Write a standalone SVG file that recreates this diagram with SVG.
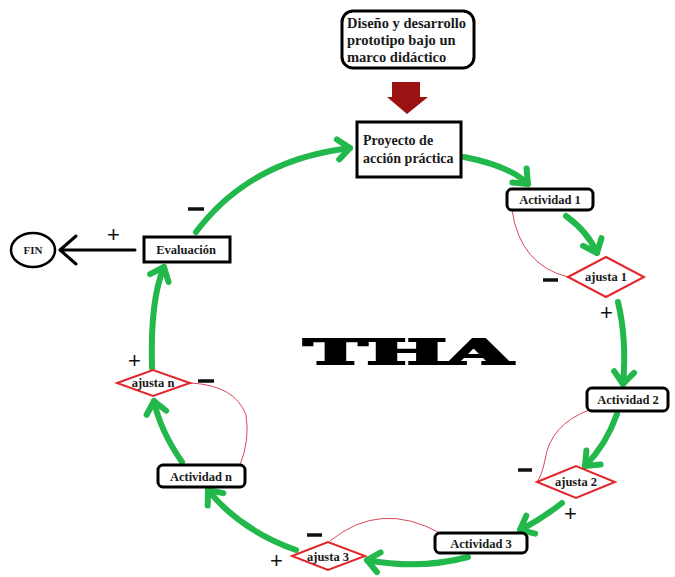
<svg xmlns="http://www.w3.org/2000/svg" width="675" height="577" viewBox="0 0 675 577">
<defs>
<style>
.t{font-family:"Liberation Serif","Times New Roman",serif;font-weight:bold;fill:#1a1a1a}
.box{fill:#fff;stroke:#000;stroke-width:3}
.dia{fill:#fff;stroke:#e3262b;stroke-width:2}
.g{fill:none;stroke:#22b84c;stroke-width:6;stroke-linecap:round}
.r{fill:none;stroke:#d9475a;stroke-width:1}
.sign{font-family:"Liberation Sans",Arial,sans-serif;font-size:22px;fill:#111}
.dash{stroke:#111;stroke-width:3.5}
</style>
<marker id="ah" viewBox="-16 -14 20 28" refX="0" refY="0" markerWidth="20" markerHeight="28" markerUnits="userSpaceOnUse" orient="auto">
<path d="M -12 -10 L 0 0 L -12 10" fill="none" stroke="#22b84c" stroke-width="6" stroke-linecap="round" stroke-linejoin="round"/>
</marker>
</defs>
<rect width="675" height="577" fill="#fff"/>

<g id="connectors">
<path class="g" d="M 196 232 Q 250 160 350 148" marker-end="url(#ah)"/>
<path class="g" d="M 464 157 Q 510 166 528 184" marker-end="url(#ah)"/>
<path class="g" d="M 566 216 Q 588 232 597 253" marker-end="url(#ah)"/>
<path class="g" d="M 618 302 Q 627 340 623 384" marker-end="url(#ah)"/>
<path class="g" d="M 617 414 Q 606 445 585 466" marker-end="url(#ah)"/>
<path class="g" d="M 562 503 Q 540 520 520 530" marker-end="url(#ah)"/>
<path class="g" d="M 468 557 Q 420 570 367 560" marker-end="url(#ah)"/>
<path class="g" d="M 296 550 Q 240 530 208 490" marker-end="url(#ah)"/>
<path class="g" d="M 182 462 Q 160 430 154 401" marker-end="url(#ah)"/>
<path class="g" d="M 152 368 Q 150 300 164 267" marker-end="url(#ah)"/>
<path class="r" d="M 512 210 Q 520 265 568 277"/>
<path class="r" d="M 589 410 Q 550 425 545 460 Q 542 475 537 482"/>
<path class="r" d="M 440 533 Q 380 500 330 541"/>
<path class="r" d="M 190 383 Q 235 385 246 415 Q 250 440 240 465"/>
<path d="M 135 250 L 60 250 M 76 236 L 60 250 L 76 264" fill="none" stroke="#000" stroke-width="3" stroke-linecap="round" stroke-linejoin="round"/>
<path d="M 392 82 H 420 V 97 H 428 L 407 114 L 387 97 H 392 Z" fill="#9b1212"/>
</g>

<g id="diseno">
<rect class="box" x="342" y="11" width="132" height="57" rx="11"/>
<text class="t" font-size="14.5" x="347" y="28">Diseño y desarrollo</text>
<text class="t" font-size="14.5" x="347" y="45">prototipo bajo un</text>
<text class="t" font-size="14.5" x="347" y="62">marco didáctico</text>
</g>

<g id="proyecto">
<rect class="box" x="357" y="122" width="104" height="55"/>
<text class="t" font-size="14" x="363" y="145">Proyecto de</text>
<text class="t" font-size="14" x="363" y="163">acción práctica</text>
</g>

<g id="actividad1">
<rect class="box" x="507" y="189" width="86" height="21" rx="5"/>
<text class="t" font-size="12.5" x="550" y="204" text-anchor="middle">Actividad 1</text>
</g>

<g id="ajusta1">
<polygon class="dia" points="568,277 606,257 644,277 606,297"/>
<text class="t" font-size="12.5" x="606" y="281" text-anchor="middle">ajusta 1</text>
</g>

<g id="actividad2">
<rect class="box" x="587" y="388" width="81" height="23" rx="5"/>
<text class="t" font-size="12.5" x="628" y="404" text-anchor="middle">Actividad 2</text>
</g>

<g id="ajusta2">
<polygon class="dia" points="537,482 576,466 615,482 576,498"/>
<text class="t" font-size="12.5" x="576" y="486" text-anchor="middle">ajusta 2</text>
</g>

<g id="actividad3">
<rect class="box" x="435" y="533" width="92" height="20" rx="5"/>
<text class="t" font-size="12.5" x="481" y="548" text-anchor="middle">Actividad 3</text>
</g>

<g id="ajusta3">
<polygon class="dia" points="292,556 328,542 365,556 328,570"/>
<text class="t" font-size="12.5" x="328" y="561" text-anchor="middle">ajusta 3</text>
</g>

<g id="actividadn">
<rect class="box" x="158" y="465" width="87" height="22" rx="5"/>
<text class="t" font-size="12.5" x="201" y="481" text-anchor="middle">Actividad n</text>
</g>

<g id="ajustan">
<polygon class="dia" points="117,383 153,370 190,383 153,396"/>
<text class="t" font-size="12.5" x="153" y="387" text-anchor="middle">ajusta n</text>
</g>

<g id="evaluacion">
<rect class="box" x="144" y="237" width="86" height="25"/>
<text class="t" font-size="12.5" x="186" y="254" text-anchor="middle">Evaluación</text>
</g>

<g id="fin">
<ellipse cx="33" cy="250" rx="22" ry="17" fill="#fff" stroke="#000" stroke-width="2.5"/>
<text class="t" font-size="11" x="33" y="254" text-anchor="middle">FIN</text>
</g>

<g id="signs">
<line class="dash" x1="188" y1="209" x2="204" y2="209"/>
<line class="dash" x1="543" y1="280" x2="558" y2="280"/>
<line class="dash" x1="518" y1="470" x2="532" y2="470"/>
<line class="dash" x1="307" y1="535" x2="322" y2="535"/>
<line class="dash" x1="198" y1="381" x2="214" y2="381"/>
<text class="sign" x="107" y="242">+</text>
<text class="sign" x="600" y="320">+</text>
<text class="sign" x="564" y="521">+</text>
<text class="sign" x="270" y="568">+</text>
<text class="sign" x="128" y="368">+</text>
</g>

<g id="tha">
<text x="304" y="364" font-family="'DejaVu Serif',serif" font-weight="bold" font-size="33" textLength="208" lengthAdjust="spacingAndGlyphs" fill="#000" stroke="#000" stroke-width="2.2" stroke-linejoin="miter">THA</text>
</g>
</svg>
